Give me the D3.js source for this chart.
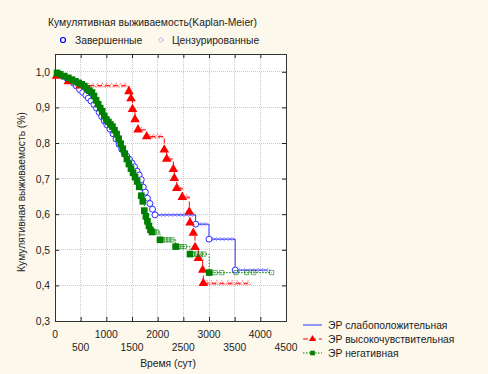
<!DOCTYPE html>
<html>
<head>
<meta charset="utf-8">
<script src="https://cdn.jsdelivr.net/npm/d3@7"></script>
<style>
  body { margin: 0; background: #fdf8ec; }
  svg { font-family: "Liberation Sans", Arial, sans-serif; }
</style>
</head>
<body>
<script>
// x tick values and y tick values
var xTicks = [0, 500, 1000, 1500, 2000, 2500, 3000, 3500, 4000, 4500];
var yTicks = [0.3, 0.4, 0.5, 0.6, 0.7, 0.8, 0.9, 1.0];

// ЭР слабоположительная: event times / survival, censored times
var blueT = [90,150,230,300,360,420,480,540,600,650,700,760,810,860,910,960,1010,1070,1130,1190,1250,1300,1350,1400,1450,1500,1550,1600,1640,1680,1720,1760,1800,1850,1900,1948,2740,3000,3510];
var blueS = [0.994,0.988,0.982,0.976,0.968,0.960,0.950,0.942,0.934,0.926,0.918,0.908,0.898,0.886,0.874,0.862,0.851,0.839,0.826,0.811,0.796,0.782,0.772,0.763,0.754,0.744,0.733,0.721,0.710,0.697,0.676,0.662,0.645,0.630,0.614,0.598,0.572,0.530,0.443];
var blueC = [2000,2080,2150,2220,2300,2380,2450,2520,2600,2680,2800,2860,2930,3080,3150,3230,3300,3380,3450,3600,3700,3800,3880,3960,4050,4150];

// ЭР высокочувствительная
var redT = [30,260,487,1440,1480,1510,1558,1617,1786,2129,2176,2305,2324,2371,2480,2616,2630,2694,2728,2792,2877,2889];
var redS = [0.988,0.973,0.961,0.945,0.925,0.895,0.866,0.837,0.818,0.781,0.755,0.726,0.701,0.673,0.648,0.607,0.576,0.547,0.507,0.476,0.443,0.406];
var redC = [560,650,740,830,920,1010,1100,1190,1280,1370,1530,1680,1850,1920,1990,2060,2230,2420,2560,2750,2840,2960,3050,3150,3250,3370,3450,3550,3650,3760];

// ЭР негативная
var greenT = [40,100,180,260,330,400,460,520,570,620,670,720,760,800,840,880,920,960,1000,1040,1080,1120,1160,1200,1240,1280,1320,1360,1400,1440,1480,1520,1560,1600,1640,1680,1710,1740,1770,1800,1830,1860,1890,2045,2350,2630,3005];
var greenS = [0.997,0.993,0.988,0.983,0.978,0.973,0.969,0.965,0.960,0.953,0.947,0.942,0.932,0.920,0.909,0.898,0.889,0.876,0.866,0.859,0.852,0.846,0.836,0.825,0.812,0.798,0.784,0.770,0.755,0.741,0.728,0.716,0.704,0.692,0.677,0.652,0.636,0.610,0.594,0.580,0.567,0.556,0.550,0.528,0.509,0.488,0.436];
var greenC = [1930,1980,2100,2160,2220,2280,2400,2460,2520,2700,2760,2830,2900,3120,3250,3525,3735,3870,4220];

var W = 488, H = 374;
var m = { left: 55, right: 202, top: 54, bottom: 53 };
var fs = 10.3;

var svg = d3.select("body").append("svg").attr("width", W).attr("height", H);
svg.append("rect").attr("width", W).attr("height", H).attr("fill", "#fdf8ec");

var x = d3.scaleLinear().domain([0, 4500]).range([m.left, W - m.right]);
var y = d3.scaleLinear().domain([0.3, 1.05]).range([H - m.bottom, m.top]);

svg.append("rect")
  .attr("x", m.left).attr("y", m.top)
  .attr("width", x(4500) - m.left).attr("height", y(0.3) - m.top)
  .attr("fill", "#fff");

// grid
var grid = svg.append("g").attr("stroke", "#c8c8c8").attr("stroke-dasharray", "1,1").attr("shape-rendering", "crispEdges");
xTicks.slice(1, -1).forEach(function(t) {
  grid.append("line").attr("x1", x(t)).attr("x2", x(t)).attr("y1", m.top).attr("y2", y(0.3));
});
yTicks.slice(1).forEach(function(t) {
  grid.append("line").attr("x1", m.left).attr("x2", x(4500)).attr("y1", y(t)).attr("y2", y(t));
});

var fmt = function(d) { return d3.format(".1f")(d).replace(".", ","); };

// axes, ticks inside
svg.append("g").attr("transform", "translate(0," + y(0.3) + ")")
  .call(d3.axisBottom(x).tickValues(xTicks).tickSizeInner(-4).tickSizeOuter(0).tickFormat(""))
  .call(function(g) { g.select(".domain").remove(); });
svg.append("g").attr("transform", "translate(0," + m.top + ")")
  .call(d3.axisTop(x).tickValues(xTicks).tickSizeInner(-4).tickSizeOuter(0).tickFormat(""))
  .call(function(g) { g.select(".domain").remove(); });
svg.append("g").attr("transform", "translate(" + m.left + ",0)")
  .call(d3.axisLeft(y).tickValues(yTicks).tickSizeInner(-4).tickSizeOuter(0).tickFormat(""))
  .call(function(g) { g.select(".domain").remove(); });
svg.append("g").attr("transform", "translate(" + x(4500) + ",0)")
  .call(d3.axisRight(y).tickValues(yTicks).tickSizeInner(-4).tickSizeOuter(0).tickFormat(""))
  .call(function(g) { g.select(".domain").remove(); });
svg.selectAll(".tick line").attr("stroke", "#222");

svg.append("rect")
  .attr("x", m.left + 0.5).attr("y", m.top + 0.5)
  .attr("width", x(4500) - m.left).attr("height", y(0.3) - m.top)
  .attr("fill", "none").attr("stroke", "#333");

// tick labels
svg.append("g").selectAll("text").data(yTicks).join("text")
  .attr("x", m.left - 5).attr("y", function(d) { return y(d) + 4; })
  .attr("text-anchor", "end").attr("font-size", fs).attr("fill", "#222")
  .text(fmt);
svg.append("g").selectAll("text").data(xTicks).join("text")
  .attr("x", function(d) { return x(d); })
  .attr("y", function(d, i) { return i % 2 ? 351 : 338; })
  .attr("text-anchor", "middle").attr("font-size", fs).attr("fill", "#222")
  .text(function(d) { return d; });

svg.append("text").attr("x", 168).attr("y", 367).attr("text-anchor", "middle")
  .attr("font-size", fs).attr("fill", "#222").text("Время (сут)");
svg.append("text").attr("transform", "translate(25,192) rotate(-90)").attr("text-anchor", "middle")
  .attr("font-size", fs).attr("fill", "#222").text("Кумулятивная выживаемость (%)");

svg.append("text").attr("x", 48).attr("y", 26).attr("font-size", fs).attr("fill", "#222")
  .text("Кумулятивная выживаемость(Kaplan-Meier)");

// series
var series = [
  { name: "ЭР слабоположительная", T: blueT, S: blueS, C: blueC, color: "#3030ff", dash: null, mark: "circle" },
  { name: "ЭР высокочувствительная", T: redT, S: redS, C: redC, color: "#ff0000", dash: "5,3", mark: "triangle" },
  { name: "ЭР негативная", T: greenT, S: greenS, C: greenC, color: "#008000", dash: "1.5,1.5", mark: "square" }
];

function survAt(s, t) {
  var i = d3.bisectRight(s.T, t);
  return i === 0 ? 1 : s.S[i - 1];
}

var line = d3.line().x(function(d) { return x(d[0]); }).y(function(d) { return y(d[1]); }).curve(d3.curveStepAfter);

var sym = { circle: d3.symbolCircle, triangle: d3.symbolTriangle, square: d3.symbolSquare };

series.forEach(function(s) {
  var pts = [[0, 1]].concat(s.T.map(function(t, i) { return [t, s.S[i]]; }));
  var tEnd = Math.max(d3.max(s.T), d3.max(s.C));
  pts.push([tEnd, survAt(s, tEnd)]);
  svg.append("path").datum(pts).attr("d", line)
    .attr("fill", "none").attr("stroke", s.color).attr("stroke-width", 1)
    .attr("stroke-dasharray", s.dash);
});

series.forEach(function(s) {
  var g = svg.append("g");
  // censored marks
  var cs = s.mark === "circle" ? 8 : (s.mark === "square" ? 18 : 10);
  g.selectAll(".c").data(s.C).join("path")
    .attr("transform", function(t) { return "translate(" + x(t) + "," + y(survAt(s, t)) + ")"; })
    .attr("d", d3.symbol().type(sym[s.mark]).size(cs))
    .attr("fill", "none").attr("stroke", s.color).attr("stroke-width", 0.8)
    .attr("stroke-dasharray", s.mark === "square" ? null : "1,1").attr("opacity", 0.75);
  // complete marks
  g.selectAll(".e").data(s.T).join("path")
    .attr("transform", function(t, i) { return "translate(" + x(t) + "," + y(s.S[i]) + ")"; })
    .attr("d", d3.symbol().type(sym[s.mark]).size(s.mark === "circle" ? 28 : (s.mark === "square" ? 44 : 40)))
    .attr("fill", s.mark === "circle" ? "#fff" : s.color)
    .attr("stroke", s.color).attr("stroke-width", s.mark === "circle" ? 1 : 0);
});

// top legend
svg.append("circle").attr("cx", 63).attr("cy", 40).attr("r", 2.5).attr("fill", "none").attr("stroke", "#0000ff").attr("stroke-width", 1.2);
svg.append("text").attr("x", 75).attr("y", 44).attr("font-size", fs).attr("fill", "#222").text("Завершенные");
svg.append("circle").attr("cx", 161).attr("cy", 40).attr("r", 2).attr("fill", "none").attr("stroke", "#8080ff").attr("stroke-dasharray", "1,1");
svg.append("text").attr("x", 172).attr("y", 44).attr("font-size", fs).attr("fill", "#222").text("Цензурированные");

// bottom legend
var lg = svg.append("g");
series.forEach(function(s, i) {
  var yy = 325 + i * 14;
  lg.append("line").attr("x1", 303).attr("x2", 322).attr("y1", yy).attr("y2", yy)
    .attr("stroke", s.color).attr("stroke-dasharray", s.dash);
  if (s.mark !== "circle") {
    lg.append("path").attr("transform", "translate(312.5," + yy + ")")
      .attr("d", d3.symbol().type(sym[s.mark]).size(22)).attr("fill", s.color);
  }
  lg.append("text").attr("x", 328).attr("y", yy + 4).attr("font-size", fs).attr("fill", "#222").text(s.name);
});
</script>
</body>
</html>
